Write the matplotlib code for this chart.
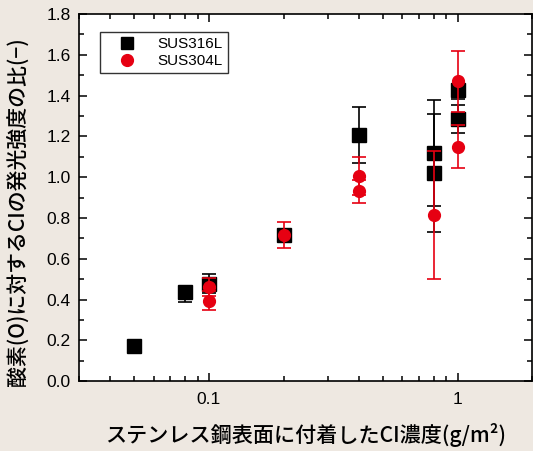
import matplotlib
matplotlib.use("Agg")
import matplotlib.pyplot as plt
from matplotlib.lines import Line2D
from matplotlib.ticker import MultipleLocator, FixedLocator, NullFormatter, LogLocator

# data
x_316 = [0.05, 0.08, 0.1, 0.2, 0.4, 0.8, 0.8, 1.0, 1.0]
y_316 = [0.17, 0.435, 0.475, 0.715, 1.205, 1.12, 1.02, 1.425, 1.285]
err_lo_316 = [0.0, 0.045, 0.045, 0.03, 0.135, 0.26, 0.29, 0.04, 0.07]
err_hi_316 = [0.0, 0.02, 0.05, 0.03, 0.14, 0.26, 0.29, 0.03, 0.07]

x_304 = [0.1, 0.1, 0.2, 0.4, 0.4, 0.8, 1.0, 1.0]
y_304 = [0.46, 0.395, 0.715, 1.005, 0.93, 0.815, 1.47, 1.15]
err_304 = [0.045, 0.048, 0.063, 0.095, 0.058, 0.314, 0.15, 0.105]

x_ticks = [0.1, 1]
x_ticklabels = ["0.1", "1"]

bg = "#EEE8E1"
red = "#E60012"

plt.rcParams['font.family'] = ['Liberation Sans', 'DejaVu Sans']
jp = ['Noto Sans CJK JP', 'DejaVu Sans']

fig = plt.figure(figsize=(5.33, 4.51), dpi=100, facecolor=bg)
ax = fig.add_axes([0.148, 0.155, 0.851, 0.814])
ax.set_facecolor("white")

# black series (drawn first)
ax.errorbar(x_316, y_316, yerr=[err_lo_316, err_hi_316], fmt='none',
            ecolor='black', elinewidth=1.2, capsize=5, capthick=1.2, zorder=2)
ax.plot(x_316, y_316, 's', color='black', markersize=9.5, linestyle='none', zorder=3)

# red series on top
ax.errorbar(x_304, y_304, yerr=err_304, fmt='none',
            ecolor=red, elinewidth=1.2, capsize=5, capthick=1.2, zorder=4)
ax.plot(x_304, y_304, 'o', color=red, markersize=8.5, linestyle='none', zorder=5)

ax.set_xscale('log')
ax.set_xlim(0.03, 2)
ax.set_ylim(0, 1.8)

ax.xaxis.set_major_locator(FixedLocator(x_ticks))
ax.set_xticklabels(x_ticklabels)
ax.xaxis.set_minor_locator(LogLocator(base=10, subs=range(2, 10)))
ax.xaxis.set_minor_formatter(NullFormatter())
ax.yaxis.set_major_locator(MultipleLocator(0.2))
ax.yaxis.set_minor_locator(MultipleLocator(0.1))
ax.yaxis.set_major_formatter(matplotlib.ticker.FormatStrFormatter('%.1f'))

ax.tick_params(which='both', direction='in', top=True, right=True, width=1.1)
ax.tick_params(which='major', length=6, labelsize=12.5)
ax.tick_params(which='minor', length=3.5)
ax.tick_params(axis='y', pad=6)
ax.tick_params(axis='x', pad=8)
for s in ax.spines.values():
    s.set_linewidth(1.2)

handles = [
    Line2D([], [], marker='s', color='black', linestyle='none', markersize=9),
    Line2D([], [], marker='o', color=red, linestyle='none', markersize=8.5),
]
leg = ax.legend(handles, ["SUS316L", "SUS304L"], loc='upper left',
                bbox_to_anchor=(0.046, 0.95), fontsize=11, frameon=True,
                fancybox=False, edgecolor='black', borderpad=0.3,
                handlelength=3.0, handletextpad=0.5, labelspacing=0.2,
                borderaxespad=0)
leg.get_frame().set_linewidth(1.0)

fig.text(0.574, 0.035, "ステンレス鋼表面に付着したCI濃度(g/m²)",
         ha='center', va='center', fontsize=15.2, family=jp, fontweight='medium')
fig.text(0.034, 0.53, "酸素(O)に対するCIの発光強度の比(−)",
         ha='center', va='center', rotation=90, fontsize=15, family=jp,
         fontweight='medium')

fig.savefig("out.png", dpi=100, facecolor=bg)
